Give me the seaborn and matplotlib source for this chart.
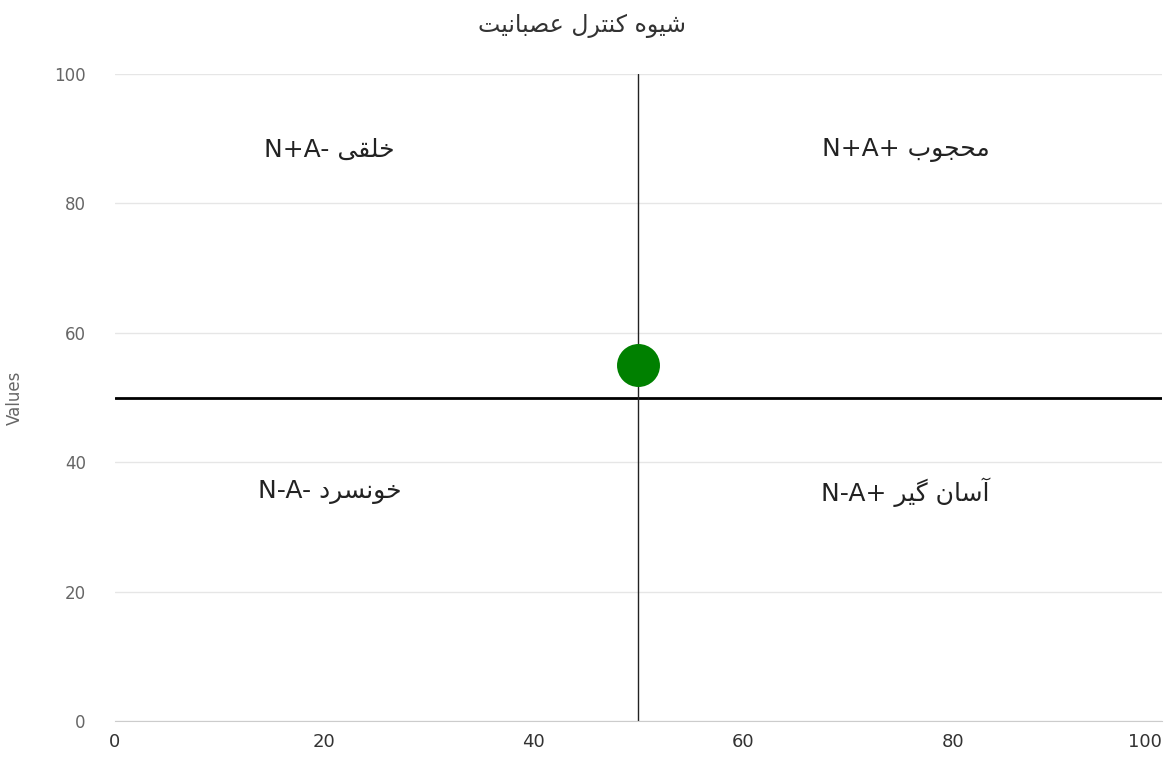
import pandas as pd
import matplotlib
matplotlib.use('Agg')
import matplotlib.pyplot as plt
import seaborn as sns

# داده ها
point_x = [50]
point_y = [55]
threshold_x = 50
threshold_y = 50
x_ticks = [0, 20, 40, 60, 80, 100]
y_ticks = [0, 20, 40, 60, 80, 100]

# متن ها به صورت شکل یافته و به ترتیب دیداری (matplotlib متن راست به چپ را شکل نمی دهد)
# "شیوه کنترل عصبانیت"
title_text = ('\uFE96\uFEF4\uFEE7\uFE8E\uFE92\uFEBC\uFECB' + ' ' +
              '\uFEDD\uFEAE\uFE98\uFEE8\uFEDB' + ' ' +
              '\uFEE9\uFEEE\uFEF4\uFEB7')
# "خلقی N+A-" , "محجوب N+A+" , "خونسرد N-A-" , "آسان گیر N-A+"
quad_labels = [
    'N+A- ' + '\uFEF0\uFED8\uFEE0\uFEA7',
    'N+A+ ' + '\uFE8F\uFEEE\uFEA0\uFEA4\uFEE3',
    'N-A- ' + '\uFEA9\uFEAE\uFEB4\uFEE7\uFEEE\uFEA7',
    'N-A+ ' + '\uFEAE\uFEF4\uFB94' + ' ' + '\uFEE5\uFE8E\uFEB3\uFE81',
]
quad_x = [20.5, 75.5, 20.5, 75.5]
quad_y = [88.3, 88.3, 35.4, 35.4]

df = pd.DataFrame({'x': point_x, 'y': point_y})

sns.set_style('white')
plt.rcParams['font.family'] = ['DejaVu Sans']

fig = plt.figure(figsize=(11.65, 7.64), dpi=100)
ax = fig.add_axes([0.0987, 0.0563, 0.8987, 0.8468])

# خطوط شبکه
for yv in y_ticks:
    ax.axhline(yv, color='#e6e6e6', lw=1, zorder=0)

ax.axhline(threshold_y, color='black', lw=2, zorder=2)
ax.axvline(threshold_x, color='#222222', lw=1, zorder=2)

sns.scatterplot(data=df, x='x', y='y', ax=ax, color='green', s=820,
                edgecolor='green', zorder=3, legend=False)

for lab, qx, qy in zip(quad_labels, quad_x, quad_y):
    ax.text(qx, qy, lab, ha='center', va='center', fontsize=18, color='#222222')

ax.set_xlim(0, 100)
ax.set_ylim(0, 100)
ax.set_xticks(x_ticks)
ax.set_yticks(y_ticks)
ax.tick_params(axis='x', colors='#333333', labelsize=13, direction='in', length=7,
               color='#cccccc', pad=9)
ax.tick_params(axis='y', colors='#666666', labelsize=12, length=0, pad=21)
ax.get_xticklabels()[-1].set_horizontalalignment('right')
for s in ['top', 'right', 'left']:
    ax.spines[s].set_visible(False)
ax.spines['bottom'].set_color('#cccccc')
ax.set_xlabel('')
ax.set_ylabel('Values', color='#666666', fontsize=12, labelpad=22)

fig.text(0.5, 0.966, title_text, ha='center', va='center', fontsize=17, color='#333333')

fig.savefig('out.png', dpi=100)
